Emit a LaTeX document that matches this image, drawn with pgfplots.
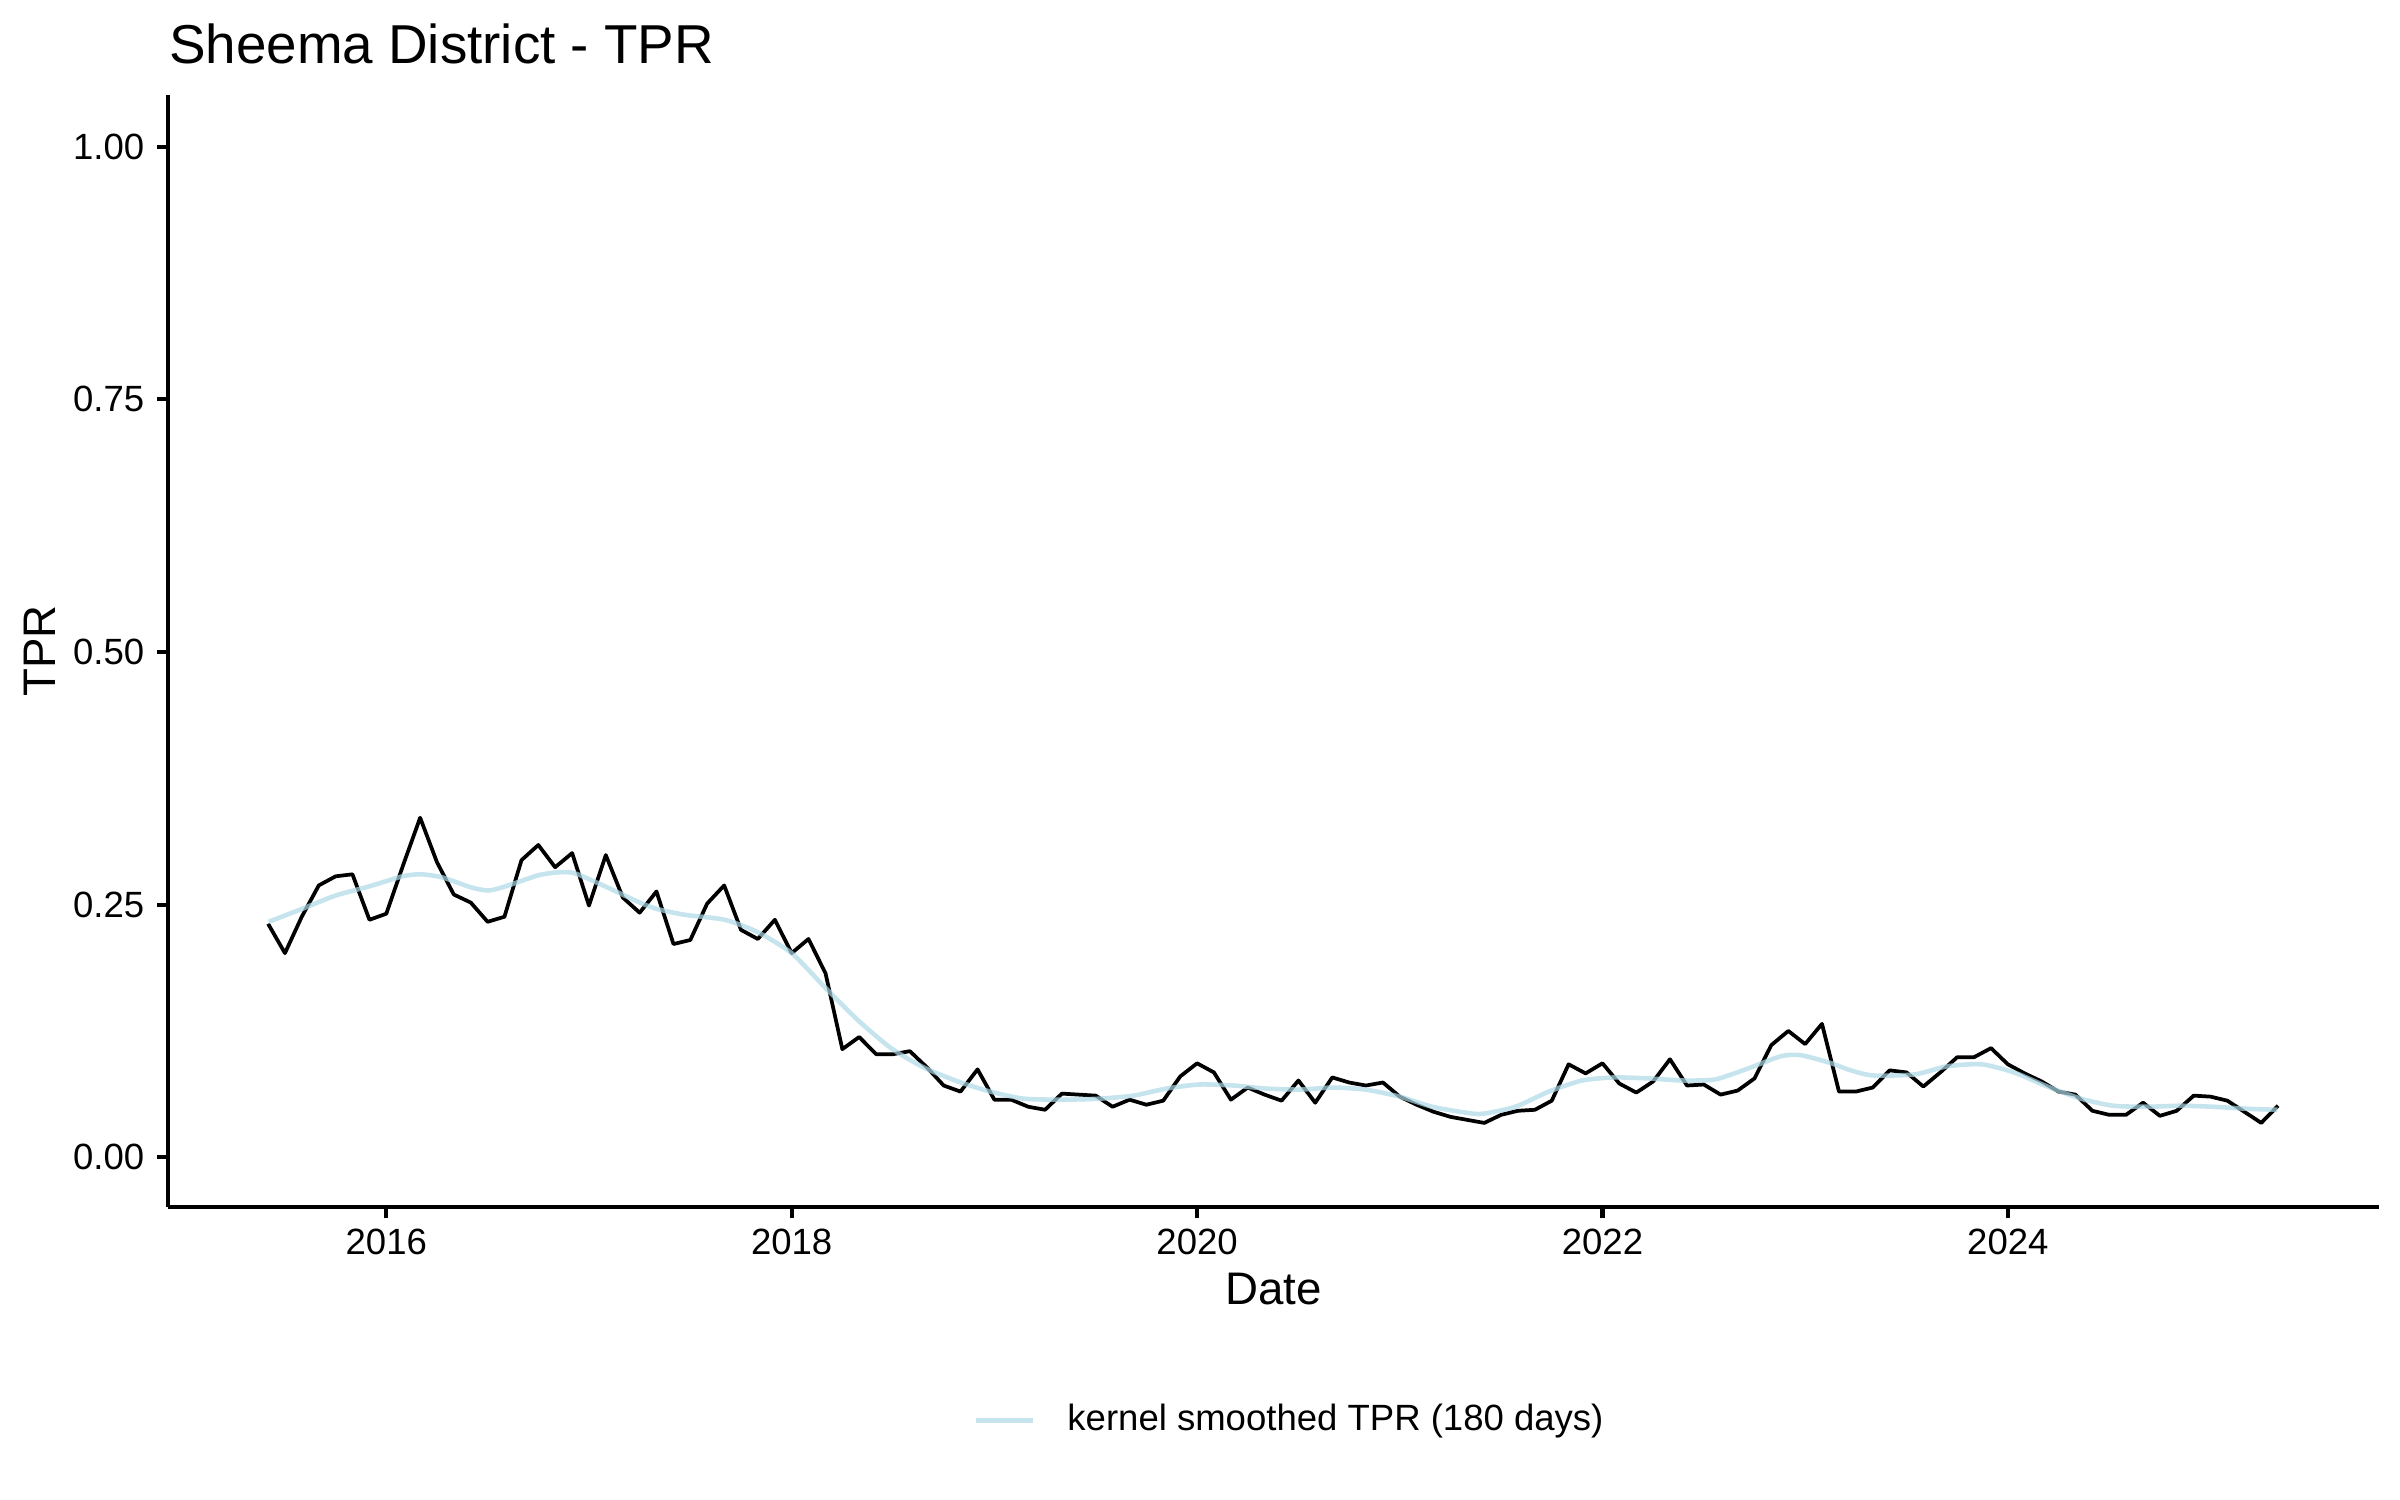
\documentclass[border=0pt]{standalone}
\usepackage{fontspec}
\setmainfont{Liberation Sans}
\usepackage{pgfplots}
\pgfplotsset{compat=1.18}
\definecolor{smoothblue}{RGB}{173,216,230}
\begin{document}
\begin{tikzpicture}
\path[use as bounding box] (0pt,0pt) rectangle (578.16pt,361.35pt);
\begin{axis}[
  at={(40.54pt,70.51pt)}, anchor=south west,
  scale only axis, width=532.6pt, height=267.95pt,
  xmin=2014.9245, xmax=2025.832,
  ymin=-0.0495, ymax=1.0511,
  axis x line=bottom, axis y line=left,
  axis line style={-, line width=1.0pt, black},
  tick align=outside,
  major tick length=2.65pt,
  every tick/.style={black, line width=1.0pt},
  minor tick num=0,
  xtick={2016,2018,2020,2022,2024},
  xticklabels={2016,2018,2020,2022,2024},
  ytick={0,0.25,0.5,0.75,1},
  yticklabels={0.00,0.25,0.50,0.75,1.00},
  /pgf/number format/assume math mode=true,
  tick label style={font=\fontsize{8.8}{10.56}\selectfont, black, inner sep=0pt},
  xticklabel style={anchor=north},
  yticklabel style={anchor=east},
  xticklabel shift=2.34pt,
  yticklabel shift=2.96pt,
  xlabel={Date},
  ylabel={TPR},
  xlabel style={font=\fontsize{11}{13.2}\selectfont, at={(axis description cs:0.5,-0.0878)}, anchor=base, inner sep=0pt},
  ylabel style={font=\fontsize{11}{13.2}\selectfont, at={(axis description cs:-0.05124,0.5)}, anchor=base, rotate=0, inner sep=0pt},
  title={Sheema District - TPR},
  every axis title shift=0pt,
  title style={font=\fontsize{13.2}{15.84}\selectfont, at={(axis description cs:0,1.0279)}, anchor=base west, inner sep=0pt, yshift=0pt},
  legend style={draw=none, fill=none, at={(axis description cs:0.5066,-0.1915)}, anchor=center,
    font=\fontsize{8.8}{10.56}\selectfont, nodes={inner sep=0pt}, column sep=7.7pt},
  legend image code/.code={\draw[#1] (0pt,0pt) -- (13.9pt,0pt);},
  clip=false,
]
\addplot[black, line width=0.9pt, line join=round, forget plot] coordinates {
(2015.417,0.231) (2015.500,0.202) (2015.583,0.238) (2015.667,0.269) (2015.750,0.278) (2015.833,0.280)
(2015.917,0.235) (2016.000,0.241) (2016.083,0.289) (2016.167,0.336) (2016.250,0.292) (2016.333,0.260)
(2016.417,0.252) (2016.500,0.233) (2016.583,0.238) (2016.667,0.294) (2016.750,0.309) (2016.833,0.287)
(2016.917,0.301) (2017.000,0.249) (2017.083,0.299) (2017.167,0.257) (2017.250,0.242) (2017.333,0.263)
(2017.417,0.211) (2017.500,0.215) (2017.583,0.251) (2017.667,0.269) (2017.750,0.225) (2017.833,0.216)
(2017.917,0.235) (2018.000,0.202) (2018.083,0.216) (2018.167,0.182) (2018.250,0.107) (2018.333,0.119)
(2018.417,0.102) (2018.500,0.102) (2018.583,0.105) (2018.667,0.089) (2018.750,0.071) (2018.833,0.065)
(2018.917,0.087) (2019.000,0.057) (2019.083,0.057) (2019.167,0.050) (2019.250,0.047) (2019.333,0.063)
(2019.417,0.062) (2019.500,0.061) (2019.583,0.050) (2019.667,0.057) (2019.750,0.052) (2019.833,0.056)
(2019.917,0.080) (2020.000,0.093) (2020.083,0.084) (2020.167,0.057) (2020.250,0.069) (2020.333,0.062)
(2020.417,0.056) (2020.500,0.076) (2020.583,0.054) (2020.667,0.079) (2020.750,0.074) (2020.833,0.071)
(2020.917,0.074) (2021.000,0.060) (2021.083,0.052) (2021.167,0.045) (2021.250,0.040) (2021.333,0.037)
(2021.417,0.034) (2021.500,0.042) (2021.583,0.046) (2021.667,0.047) (2021.750,0.056) (2021.833,0.092)
(2021.917,0.083) (2022.000,0.093) (2022.083,0.073) (2022.167,0.064) (2022.250,0.075) (2022.333,0.097)
(2022.417,0.071) (2022.500,0.072) (2022.583,0.062) (2022.667,0.066) (2022.750,0.078) (2022.833,0.111)
(2022.917,0.125) (2023.000,0.112) (2023.083,0.132) (2023.167,0.065) (2023.250,0.065) (2023.333,0.069)
(2023.417,0.086) (2023.500,0.084) (2023.583,0.070) (2023.667,0.084) (2023.750,0.099) (2023.833,0.099)
(2023.917,0.108) (2024.000,0.092) (2024.083,0.083) (2024.167,0.075) (2024.250,0.065) (2024.333,0.062)
(2024.417,0.046) (2024.500,0.042) (2024.583,0.042) (2024.667,0.054) (2024.750,0.041) (2024.833,0.046)
(2024.917,0.061) (2025.000,0.060) (2025.083,0.056) (2025.167,0.045) (2025.250,0.034) (2025.333,0.051)
};
\addplot[smoothblue, opacity=0.7, line width=1.1pt, smooth, tension=0.4] coordinates {
(2015.420,0.233) (2015.587,0.246) (2015.750,0.259) (2015.915,0.268) (2016.080,0.278) (2016.170,0.280)
(2016.275,0.277) (2016.420,0.267) (2016.505,0.264) (2016.587,0.268) (2016.750,0.279) (2016.850,0.282)
(2016.930,0.281) (2017.080,0.268) (2017.240,0.253) (2017.330,0.246) (2017.470,0.240) (2017.670,0.235)
(2017.830,0.223) (2018.000,0.202) (2018.160,0.169) (2018.325,0.136) (2018.490,0.108) (2018.650,0.089)
(2018.820,0.075) (2018.980,0.065) (2019.145,0.058) (2019.340,0.057) (2019.520,0.058) (2019.685,0.061)
(2019.850,0.068) (2020.010,0.072) (2020.180,0.071) (2020.340,0.068) (2020.510,0.067) (2020.670,0.069)
(2020.830,0.067) (2021.000,0.060) (2021.160,0.050) (2021.330,0.044) (2021.410,0.043) (2021.570,0.050)
(2021.735,0.065) (2021.900,0.076) (2022.060,0.079) (2022.230,0.078) (2022.390,0.076) (2022.555,0.077)
(2022.720,0.088) (2022.880,0.100) (2022.980,0.101) (2023.130,0.093) (2023.210,0.087) (2023.330,0.081)
(2023.540,0.082) (2023.700,0.090) (2023.870,0.092) (2024.030,0.084) (2024.195,0.070) (2024.360,0.058)
(2024.520,0.051) (2024.690,0.050) (2024.850,0.051) (2025.010,0.050) (2025.180,0.048) (2025.330,0.047)
};
\addlegendentry{kernel smoothed TPR (180 days)}
\end{axis}
\end{tikzpicture}
\end{document}
